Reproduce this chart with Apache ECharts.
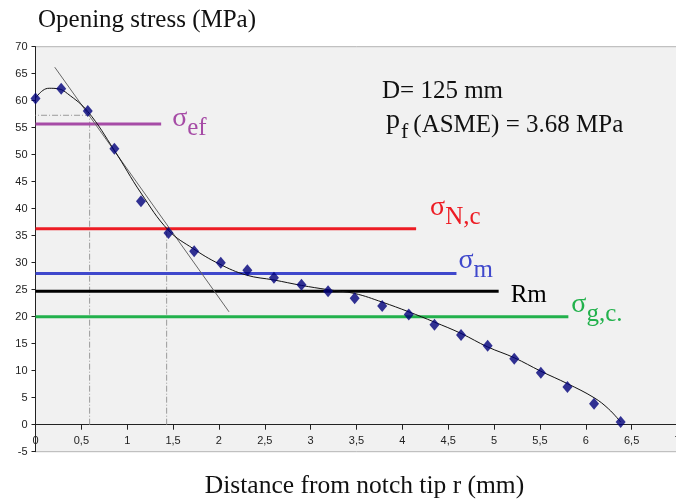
<!DOCTYPE html>
<html>
<head>
<meta charset="utf-8">
<style>
  html, body { margin: 0; padding: 0; background: #fff; }
  #chart { width: 676px; height: 502px; }
</style>
<script src="https://cdn.jsdelivr.net/npm/echarts@6/dist/echarts.min.js"></script>
</head>
<body>
<div id="chart"></div>
<script>
// measured points (r in mm, stress in MPa)
var rPoints = [0, 0.28, 0.57, 0.86, 1.15, 1.45, 1.73, 2.02, 2.31, 2.60, 2.90, 3.19, 3.48, 3.78, 4.07, 4.35, 4.64, 4.93, 5.22, 5.51, 5.80, 6.09, 6.38];
var stressPoints = [60.4, 62.2, 58.1, 51.1, 41.4, 35.5, 32.1, 30.0, 28.6, 27.2, 25.9, 24.7, 23.4, 22.0, 20.4, 18.5, 16.6, 14.6, 12.2, 9.6, 7.0, 3.9, 0.5];

// fitted curve
var rCurve = [0, 0.08, 0.15, 0.25, 0.35, 0.57, 0.86, 1.15, 1.45, 1.72, 2.0, 2.3, 2.6, 2.9, 3.19, 3.48, 3.78, 4.07, 4.35, 4.64, 4.93, 5.22, 5.51, 5.8, 6.09, 6.25, 6.38];
var stressCurve = [60.5, 61.9, 62.3, 62.2, 61.3, 58.0, 50.8, 42.9, 36.0, 32.6, 29.8, 27.7, 26.8, 25.8, 25.0, 24.3, 22.7, 20.9, 19.0, 16.9, 14.4, 12.4, 9.9, 7.6, 5.0, 2.9, 0.5];

// tangent line ends
var tangentR = [0.21, 2.11];
var tangentS = [66.2, 20.9];

// characteristic levels
var levelNames = ['ef', 'N,c', 'm', 'Rm', 'g,c.'];
var levelValues = [55.7, 36.3, 28.0, 24.7, 20.0];
var levelEnds = [1.37, 4.15, 4.59, 5.05, 5.81];
var levelColors = ['#a64ca6', '#ed1c24', '#3f48cc', '#000000', '#22b14c'];

// construction lines (dash-dot)
var guideR = [0.59, 1.43];
var guideS = [57.3, 36.0];

var xTicks = { min: 0, max: 7, step: 0.5 };
var yTicks = { min: -5, max: 70, step: 5 };

var chart = echarts.init(document.getElementById('chart'));

function pairs(xs, ys) {
    return xs.map(function (x, i) { return [x, ys[i]]; });
}

var serif = 'Liberation Serif';

// plot box: 405px high for 75 MPa, so the zero line sits 5 MPa above the bottom
var gridH = 405;
var zeroLift = gridH * (0 - yTicks.min) / (yTicks.max - yTicks.min);

var labelStyles = [
    { offset: [11, -1] },
    { offset: [14, -17] },
    { offset: [2, -9] },
    { offset: [12, 4] },
    { offset: [3, -8] }
];

var levelSeries = levelNames.map(function (name, i) {
    var isSigma = name !== 'Rm';
    return {
        type: 'line',
        z: 2,
        silent: true,
        symbol: 'none',
        data: [[0, levelValues[i]], [levelEnds[i], levelValues[i]]],
        lineStyle: { color: levelColors[i], width: 3 },
        endLabel: {
            show: true,
            distance: 0,
            offset: labelStyles[i].offset,
            formatter: isSigma ? '{s|σ}{sub|' + name + '}' : '{r|' + name + '}',
            rich: {
                s: { fontFamily: serif, fontSize: 28, color: levelColors[i], verticalAlign: 'top', lineHeight: 36 },
                sub: { fontFamily: serif, fontSize: 25, color: levelColors[i], verticalAlign: 'bottom', lineHeight: 36 },
                r: { fontFamily: serif, fontSize: 25, color: levelColors[i] }
            }
        }
    };
});

var guideSeries = [];
guideR.forEach(function (r, i) {
    var pts = [[r, 0], [r, guideS[i]]];
    if (i === 0) pts.push([0, guideS[i]]);
    guideSeries.push({
        type: 'line',
        z: 1,
        silent: true,
        symbol: 'none',
        data: pts,
        lineStyle: { color: '#9a9a9a', width: 1, type: [6, 2, 1, 2] }
    });
});

var option = {
    animation: false,
    title: {
        text: 'Opening stress (MPa)',
        left: 33,
        top: 3,
        textStyle: { fontFamily: serif, fontSize: 25, fontWeight: 'normal', color: '#111' }
    },
    grid: {
        left: 35.5,
        right: -1.5,
        top: 46.7,
        height: gridH,
        outerBoundsMode: 'none',
        containLabel: false,
        show: true,
        backgroundColor: '#f1f1f1',
        borderColor: '#b4b4b4',
        borderWidth: 1
    },
    xAxis: {
        type: 'value',
        position: 'bottom',
        offset: -zeroLift,
        min: xTicks.min,
        max: xTicks.max,
        interval: xTicks.step,
        name: 'Distance from notch tip r (mm)',
        nameLocation: 'middle',
        nameGap: 49,
        nameTextStyle: { fontFamily: serif, fontSize: 25.5, color: '#111', padding: [0, 0, 0, 16] },
        axisLine: { onZero: false, lineStyle: { color: '#222', width: 1 } },
        axisTick: { show: true, length: 5, lineStyle: { color: '#222' } },
        axisLabel: {
            fontFamily: 'Liberation Sans', fontSize: 11, color: '#222', margin: 11,
            showMaxLabel: true,
            formatter: function (v) { return String(v).replace('.', ','); }
        },
        splitLine: { show: false }
    },
    yAxis: {
        type: 'value',
        min: yTicks.min,
        max: yTicks.max,
        interval: yTicks.step,
        axisLine: { show: true, onZero: false, lineStyle: { color: '#222', width: 1 } },
        axisTick: { show: true, length: 4, lineStyle: { color: '#222' } },
        axisLabel: { fontFamily: 'Liberation Sans', fontSize: 11, color: '#222', margin: 8 },
        splitLine: { show: false }
    },
    graphic: [
        {
            type: 'text',
            left: 382,
            top: 79,
            style: { text: 'D= 125 mm', fontFamily: serif, fontSize: 25, fill: '#111' }
        },
        {
            type: 'text',
            left: 386,
            top: 107,
            style: {
                text: '{p|p}{f|f}{t|(ASME) = 3.68 MPa}',
                rich: {
                    p: { fontFamily: serif, fontSize: 28, fill: '#111', verticalAlign: 'top', lineHeight: 36 },
                    f: { fontFamily: serif, fontSize: 22, fill: '#111', verticalAlign: 'bottom', lineHeight: 36, padding: [0, 5, 0, 1] },
                    t: { fontFamily: serif, fontSize: 25, fill: '#111', lineHeight: 36 }
                }
            }
        }
    ],
    series: guideSeries.concat(levelSeries).concat([
        {
            type: 'line',
            z: 3,
            silent: true,
            symbol: 'none',
            data: pairs(tangentR, tangentS),
            lineStyle: { color: '#666', width: 1 }
        },
        {
            type: 'line',
            z: 4,
            silent: true,
            symbol: 'none',
            smooth: 0.4,
            data: pairs(rCurve, stressCurve),
            lineStyle: { color: '#111', width: 1 }
        },
        {
            type: 'scatter',
            z: 5,
            symbol: 'diamond',
            symbolSize: [10, 12],
            data: pairs(rPoints, stressPoints),
            itemStyle: { color: '#00007a' }
        }
    ])
};

chart.setOption(option);
</script>
</body>
</html>
